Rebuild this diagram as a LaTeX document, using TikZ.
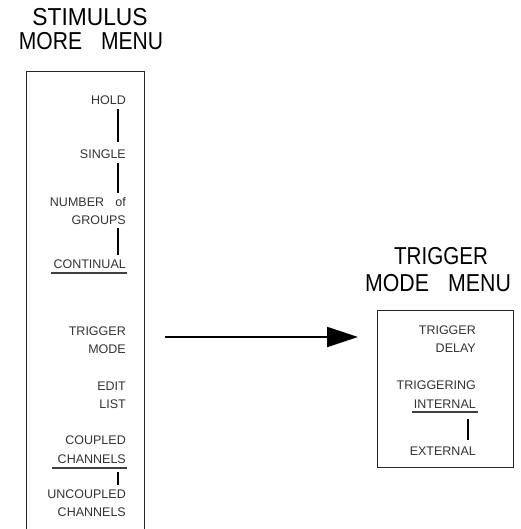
\documentclass[tikz,border=0pt]{standalone}
\usepackage{fontspec}
\setmainfont{Liberation Sans}
\usetikzlibrary{arrows.meta,calc}
\begin{document}
\begin{tikzpicture}[x=1pt,y=-1pt,
  item/.style={anchor=east, inner sep=0pt, text height=9pt, text depth=0pt,
    font=\fontsize{12.5}{14}\selectfont, text=black!80},
  ttl/.style={inner sep=0pt, text height=17.5pt, text depth=0pt,
    font=\fontsize{24.5}{28}\selectfont},
  frame/.style={line width=1pt, draw=black!85},
  link/.style={line width=1.3pt, draw=black},
  uline/.style={line width=1.6pt, draw=black!75},
  arrowline/.style={line width=1.8pt, -{Triangle[length=31pt,width=20pt]}},
]
\useasboundingbox (0,0) rectangle (520,529);

% ---- left menu ----
\node[ttl] (t1a) at (90,17) {\scalebox{0.93}[1]{STIMULUS}};
\node[ttl] (t1b) at (91,41) {\scalebox{0.86}[1]{MORE\hspace{0.9em}MENU}};
\draw[frame] (26,529) |- (144,72) -- (144,529);
\coordinate (lx) at (118,0);

\node[item] (hold) at (126,100) {HOLD};
\node[item] (single) at (126,154) {SINGLE};
\node[item] (number) at (126,202) {NUMBER\hspace{0.9em}of};
\node[item] (groups) at (126,220) {GROUPS};
\node[item] (continual) at (126,264) {CONTINUAL};
\node[item] (trigger) at (126,331) {TRIGGER};
\node[item] (mode) at (126,349) {MODE};
\node[item] (edit) at (126,386) {EDIT};
\node[item] (list) at (126,404) {LIST};
\node[item] (coupled) at (126,440) {COUPLED};
\node[item] (channels) at (126,459) {CHANNELS};
\node[item] (uncoupled) at (126,494) {UNCOUPLED};
\node[item] (channelsb) at (126,512) {CHANNELS};

\draw[link, shorten <=4.5pt, shorten >=7.5pt] (hold.south -| lx) -- (single.north -| lx);
\draw[link, shorten <=4.5pt, shorten >=4.5pt] (single.south -| lx) -- (number.north -| lx);
\draw[link, shorten <=3.5pt, shorten >=4.5pt] (groups.south -| lx) -- (continual.north -| lx);
\draw[uline] ($(continual.south west)+(-2,4.5)$) -- ($(continual.south east)+(1,4.5)$);
\draw[uline] ($(channels.south east)+(-74,4.5)$) -- ($(channels.south east)+(1,4.5)$);
\draw[link, shorten <=8.5pt, shorten >=4.5pt] (channels.south -| lx) -- (uncoupled.north -| lx);

% ---- arrow ----
\coordinate (astart) at (165,337);

% ---- right menu ----
\node[ttl] (t2a) at (441,256) {\scalebox{0.84}[1]{TRIGGER}};
\node[ttl] (t2b) at (438,283) {\scalebox{0.87}[1]{MODE\hspace{0.9em}MENU}};
\node[frame, draw, inner sep=0pt, minimum width=136pt, minimum height=157pt,
  anchor=north west] (rbox) at (377,310) {};
\coordinate (rx) at (468,0);

\node[item] (tdelay1) at (476,330) {TRIGGER};
\node[item] (tdelay2) at (476,348) {DELAY};
\node[item] (trig) at (476,385) {TRIGGERING};
\node[item] (internal) at (476,404) {INTERNAL};
\node[item] (external) at (476,451) {EXTERNAL};

\draw[uline] ($(internal.south west)+(-2,3.5)$) -- ($(internal.south east)+(1.5,3.5)$);
\draw[link, shorten <=10.5pt, shorten >=6.5pt] (internal.south -| rx) -- (external.north -| rx);

\draw[arrowline, shorten >=19pt] (astart) -- (rbox.west |- astart);
\end{tikzpicture}
\end{document}
